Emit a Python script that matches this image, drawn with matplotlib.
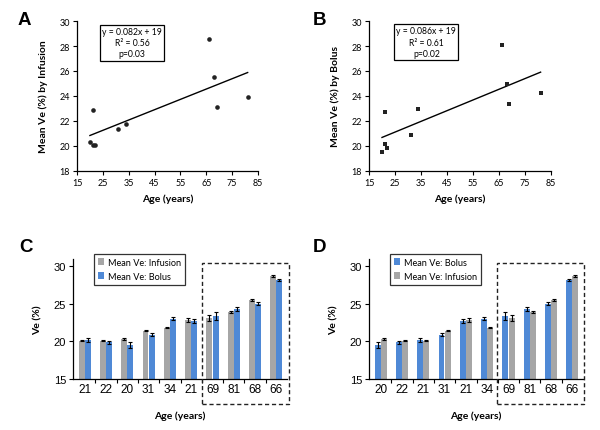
import numpy as np
import matplotlib
matplotlib.use("Agg")
import matplotlib.pyplot as plt
from matplotlib.patches import Rectangle

# ---- data ----
ages = [21, 22, 20, 31, 34, 21, 69, 81, 68, 66]
infusion = [20.1, 20.1, 20.3, 21.4, 21.8, 22.85, 23.1, 23.9, 25.5, 28.6]
infusion_err = [0.12, 0.12, 0.1, 0.1, 0.08, 0.25, 0.4, 0.1, 0.12, 0.12]
bolus = [20.2, 19.85, 19.5, 20.85, 23.0, 22.7, 23.35, 24.25, 25.0, 28.1]
bolus_err = [0.25, 0.2, 0.45, 0.2, 0.2, 0.3, 0.5, 0.3, 0.15, 0.15]

# order for panel D (sorted by bolus within young / old groups)
order_d = [2, 1, 0, 3, 5, 4, 6, 7, 8, 9]

eq_a = "y = 0.082x + 19\nR² = 0.56\np=0.03"
eq_b = "y = 0.086x + 19\nR² = 0.61\np=0.02"

GRAY = "#a6a6a6"
BLUE = "#4f89d6"
CAL = ["Lato", "DejaVu Sans"]
ARI = ["Liberation Sans", "DejaVu Sans"]

fig = plt.figure(figsize=(6.0, 4.31), dpi=100)
W, H = 600, 431


def ax_px(l, t, r, b):
    return fig.add_axes([l / W, 1 - b / H, (r - l) / W, (b - t) / H])


def scatter_panel(ax, y, marker, msize, ylabel, eq, eqpos):
    x = np.array(ages, float)
    yy = np.array(y, float)
    ax.scatter(x, yy, marker=marker, s=msize, color="#222222", zorder=3, linewidths=0)
    k, c = np.polyfit(x, yy, 1)
    xl = np.array([x.min(), x.max()])
    ax.plot(xl, k * xl + c, color="black", lw=1.0)
    ax.set_xlim(15, 85)
    ax.set_ylim(18, 30)
    ax.set_xticks(range(15, 86, 10))
    ax.set_yticks(range(18, 31, 2))
    for s in ["top", "right"]:
        ax.spines[s].set_visible(False)
    for s in ["left", "bottom"]:
        ax.spines[s].set_linewidth(0.9)
    ax.tick_params(direction="out", length=3, width=0.8, labelsize=6.5, pad=2)
    for lab in ax.get_xticklabels() + ax.get_yticklabels():
        lab.set_family(CAL)
    ax.set_xlabel("Age (years)", fontsize=7.5, fontweight="bold", family=CAL, labelpad=5)
    ax.set_ylabel(ylabel, fontsize=7.5, fontweight="bold", family=CAL, labelpad=8)
    ax.text(eqpos[0], eqpos[1], eq, transform=ax.transAxes, ha="center", va="center",
            fontsize=6.2, family=CAL, linespacing=1.3,
            bbox=dict(boxstyle="square,pad=0.25", fc="white", ec="black", lw=0.9))


axA = ax_px(77, 22, 258, 172)
scatter_panel(axA, infusion, "o", 11, "Mean Ve (%) by Infusion", eq_a, (0.304, 0.855))
axB = ax_px(369, 22, 551, 172)
scatter_panel(axB, bolus, "s", 8, "Mean Ve (%) by Bolus", eq_b, (0.315, 0.86))


def bar_panel(ax, order, first, second, box):
    n = len(order)
    idx = np.arange(n)
    w = 0.28
    for off, (vals, errs, col, lab) in zip([-0.145, 0.145], [first, second]):
        v = [vals[i] for i in order]
        e = [errs[i] for i in order]
        ax.bar(idx + off, np.array(v) - 15, width=w, bottom=15, color=col, label=lab,
               yerr=e, error_kw=dict(ecolor="black", elinewidth=0.8, capsize=1.3, capthick=0.8),
               zorder=2)
    ax.set_xlim(-0.55, n - 0.5)
    ax.set_ylim(15, 30.9)
    ax.set_yticks([15, 20, 25, 30])
    ax.set_xticks(idx)
    ax.set_xticklabels([str(ages[i]) for i in order])
    ax.set_xticks(np.arange(0.5, n - 0.5, 1), minor=True)
    for s in ["top", "right"]:
        ax.spines[s].set_visible(False)
    for s in ["left", "bottom"]:
        ax.spines[s].set_linewidth(0.9)
    ax.tick_params(axis="x", which="major", length=0, labelsize=8.5, pad=3)
    ax.tick_params(axis="x", which="minor", length=3, width=0.8, direction="out")
    ax.tick_params(axis="y", length=3, width=0.8, direction="out", labelsize=8, pad=2)
    for lab in ax.get_xticklabels() + ax.get_yticklabels():
        lab.set_family(ARI)
    ax.set_xlabel("Age (years)", fontsize=7.5, fontweight="bold", family=CAL, labelpad=11)
    ax.set_ylabel("Ve (%)", fontsize=7.5, fontweight="bold", family=CAL, labelpad=8)
    leg = ax.legend(loc="upper left", bbox_to_anchor=(0.10, 1.04),
                    prop=dict(family=CAL, size=6.6), frameon=True, fancybox=False,
                    edgecolor="black", handlelength=0.7, handleheight=0.7,
                    handletextpad=0.4, borderpad=0.4, labelspacing=0.55, borderaxespad=0)
    leg.get_frame().set_linewidth(0.9)
    l, t, r, b = box
    fig.patches.append(Rectangle((l / W, 1 - b / H), (r - l) / W, (b - t) / H,
                                 transform=fig.transFigure, fill=False, ec="#222222",
                                 lw=1.0, ls=(0, (3, 2))))


axC = ax_px(73, 260, 287, 380)
bar_panel(axC, list(range(10)),
          (infusion, infusion_err, GRAY, "Mean Ve: Infusion"),
          (bolus, bolus_err, BLUE, "Mean Ve: Bolus"),
          (202, 264, 289, 405))
axD = ax_px(369, 260, 583, 380)
bar_panel(axD, order_d,
          (bolus, bolus_err, BLUE, "Mean Ve: Bolus"),
          (infusion, infusion_err, GRAY, "Mean Ve: Infusion"),
          (497, 264, 584, 405))

for lbl, x, y in [("A", 18, 25), ("B", 313, 25), ("C", 19, 252), ("D", 313, 252)]:
    fig.text(x / W, 1 - y / H, lbl, fontsize=13.5, fontweight="bold", family=["Liberation Sans"],
             ha="left", va="baseline")

fig.savefig("out.png", dpi=100)
